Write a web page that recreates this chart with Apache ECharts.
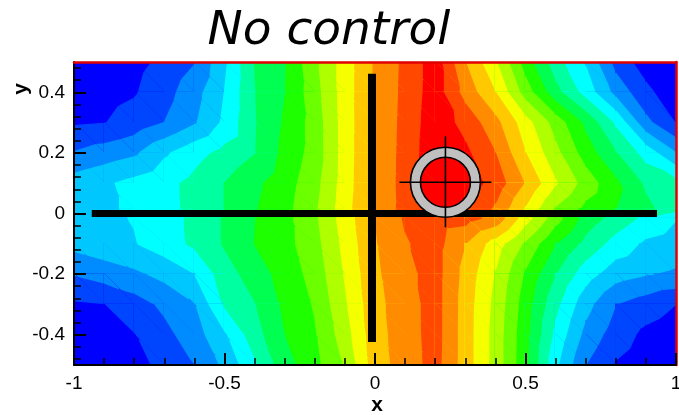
<!DOCTYPE html>
<html><head><meta charset="utf-8">
<script src="https://cdn.jsdelivr.net/npm/echarts@6/dist/echarts.min.js"></script>
<style>html,body{margin:0;padding:0;background:#fff}#c{width:679px;height:415px}</style>
</head><body><div id="c"></div><script>
// grid nodes
const xNodes = [-1,-0.9,-0.8,-0.7,-0.6,-0.5,-0.4,-0.3,-0.2,-0.1,0,0.1,0.2,0.3,0.4,0.5,0.6,0.7,0.8,0.9,1];
const yNodes = [0.5,0.4,0.3,0.2,0.1,0.015,-0.015,-0.1,-0.2,-0.3,-0.4,-0.5];
// field level values (contour level units) read row by row, top to bottom
const row_p050 = [0,0.35,0.7,1.2,1.93,3.8,6.0,6.9,8.75,10.45,12.1,13.2,14.5,12.0,10.1,7.5,5.4,3.9,1.6,0.5,0];
const row_p040 = [0.4,0.65,0.9,1.6,2.58,4.0,5.95,6.95,8.57,10.45,12.1,13.24,14.5,12.6,11.0,8.5,6.33,4.58,2.65,1.25,0.3];
const row_p030 = [0.85,0.96,1.39,2.0,2.87,4.19,5.9,7.11,8.4,10.42,12.13,13.28,14.6,13.65,12.3,10.4,8.55,6.75,4.8,2.27,0.95];
const row_p020 = [2.05,2.43,2.81,3.82,4.62,5.29,5.94,7.27,8.38,10.42,12.17,13.31,14.7,14.2,13.0,11.0,9.27,7.5,6.05,4.55,3.0];
const row_p010 = [3.45,3.84,4.27,4.71,5.26,6.0,6.76,7.54,8.62,10.45,12.2,13.33,14.8,14.6,13.57,11.9,10.1,8.56,7.2,5.8,5.3];
const row_p0015 = [3.6,3.84,4.15,4.67,5.26,6.0,6.91,7.66,8.8,10.55,12.25,13.3,14.5,14.0,12.83,10.87,8.86,7.71,7.0,6.27,5.3];
const row_m0015 = [3.6,3.81,4.05,4.59,5.21,6.09,6.97,7.67,8.8,10.45,12.0,13.1,13.6,13.4,12.65,10.43,8.4,6.56,5.58,4.75,4.05];
const row_m010 = [3.3,3.62,3.93,4.51,5.18,6.09,7.0,7.65,8.61,10.27,11.9,12.9,13.4,12.0,10.5,8.8,7.0,5.67,4.6,3.8,3.5];
const row_m020 = [2.05,2.42,2.78,3.28,3.97,5.54,6.46,7.4,8.36,10.06,11.79,12.68,13.4,11.62,9.9,7.83,6.0,4.43,3.4,3.05,2.85];
const row_m030 = [0.85,0.97,1.53,2.21,2.93,5.11,5.93,7.18,8.09,9.82,11.68,12.52,13.4,11.5,9.68,7.46,5.25,3.33,2.0,1.5,1.0];
const row_m040 = [0.4,0.69,0.95,1.68,2.53,3.82,5.55,6.97,7.87,9.51,11.58,12.5,13.4,11.48,9.57,7.29,4.71,2.67,1.5,0.75,0.4];
const row_m050 = [0,0.33,0.7,1.23,2.0,3.2,4.78,6.55,7.68,9.09,11.46,12.47,13.35,11.48,9.57,7.23,4.2,2.0,0.9,0.4,0.1];
const fieldRows = [row_p050,row_p040,row_p030,row_p020,row_p010,row_p0015,row_m0015,row_m010,row_m020,row_m030,row_m040,row_m050];
const bandColors = ['#0000ff','#0046ff','#008cff','#00c8ff','#00ffff','#00ffa0','#00ff50','#1eff00','#6cff00','#b0ff00','#f5ff00','#ffc800','#ff8c00','#ff4800','#ff0000'];
// overlay marks
const hBar = [[-0.941,0],[0.937,0]];
const vBar = [[-0.01,0.461],[-0.01,-0.424]];
const rotor = [[0.234,0.103]];
// ticks
const xTickLabels = [-1,-0.5,0,0.5,1];
const yMajorTicks = [-0.4,-0.2,0,0.2,0.4];
const yMinorTicks = [-0.48,-0.44,-0.36,-0.32,-0.28,-0.24,-0.16,-0.12,-0.08,-0.04,0.04,0.08,0.12,0.16,0.24,0.28,0.32,0.36,0.44,0.48];

const cells = [];
for (let j = 0; j < yNodes.length - 1; j++) {
  for (let i = 0; i < xNodes.length - 1; i++) {
    cells.push([xNodes[i], xNodes[i+1], yNodes[j], yNodes[j+1],
      fieldRows[j][i], fieldRows[j][i+1], fieldRows[j+1][i], fieldRows[j+1][i+1]]);
  }
}
function clipGE(poly, t) {
  const out = [];
  for (let i = 0; i < poly.length; i++) {
    const a = poly[i], b = poly[(i + 1) % poly.length];
    const ina = a[2] >= t, inb = b[2] >= t;
    if (ina) out.push(a);
    if (ina !== inb) {
      const f = (t - a[2]) / (b[2] - a[2]);
      out.push([a[0] + f * (b[0] - a[0]), a[1] + f * (b[1] - a[1]), t]);
    }
  }
  return out;
}
const NB = bandColors.length;
function band(v) { return Math.max(0, Math.min(NB - 1, Math.floor(v))); }
function renderCell(params, api) {
  const xa = api.value(0), xb = api.value(1), ya = api.value(2), yb = api.value(3);
  const vals = [api.value(4), api.value(5), api.value(6), api.value(7)];
  const pA = api.coord([xa, ya]), pB = api.coord([xb, ya]), pC = api.coord([xa, yb]), pD = api.coord([xb, yb]);
  const A = [pA[0], pA[1], vals[0]], B = [pB[0], pB[1], vals[1]], C = [pC[0], pC[1], vals[2]], D = [pD[0], pD[1], vals[3]];
  const tris = [[A, B, D], [A, D, C]];
  const children = [];
  tris.forEach(function (tri) {
    const vs = tri.map(p => p[2]);
    const k0 = band(Math.min.apply(null, vs)), k1 = band(Math.max.apply(null, vs));
    for (let k = k0; k <= k1; k++) {
      const poly = k === k0 ? tri : clipGE(tri, k);
      if (poly.length < 3) continue;
      children.push({type: 'polygon', shape: {points: poly.map(p => [p[0], p[1]])},
        style: {fill: bandColors[k], stroke: bandColors[k], lineWidth: 1.4, lineJoin: 'round'}, silent: true});
    }
  });
  return {type: 'group', children: children};
}
function renderRotor(params, api) {
  const c = api.coord([api.value(0), api.value(1)]);
  return {type: 'group', children: [
    {type: 'ring', shape: {cx: c[0], cy: c[1], r: 35, r0: 25}, style: {fill: '#c0c0c0', stroke: '#000', lineWidth: 1.6}},
    {type: 'line', shape: {x1: c[0] - 46, y1: c[1], x2: c[0] + 46, y2: c[1]}, style: {stroke: '#000', lineWidth: 1.6}},
    {type: 'line', shape: {x1: c[0], y1: c[1] - 46, x2: c[0], y2: c[1] + 45}, style: {stroke: '#000', lineWidth: 1.6}}
  ]};
}
const FONT = 'Liberation Sans';
const chart = echarts.init(document.getElementById('c'));
chart.setOption({
  animation: false,
  backgroundColor: '#fff',
  textStyle: {fontFamily: FONT},
  grid: {left: 74, right: 3, top: 62, bottom: 50, outerBoundsMode: 'none'},
  xAxis: [
    {type: 'value', min: -1, max: 1, interval: 0.5, position: 'bottom', zlevel: 1, z: 10,
     axisLine: {show: true, onZero: false, lineStyle: {color: '#000', width: 2}},
     axisTick: {show: true, inside: true, length: 12, lineStyle: {color: '#000', width: 2}},
     minorTick: {show: true, splitNumber: 5, length: 7, lineStyle: {color: '#000', width: 1.5}},
     axisLabel: {color: '#000', fontSize: 19, fontFamily: FONT, margin: 9,
       formatter: function (v) { return xTickLabels.indexOf(v) >= 0 ? String(v) : ''; }},
     splitLine: {show: false}},
    {type: 'value', min: -1, max: 1, position: 'top', zlevel: 1, z: 10,
     axisLine: {show: true, onZero: false, lineStyle: {color: '#e00000', width: 2.5}},
     axisTick: {show: false}, axisLabel: {show: false}, splitLine: {show: false}}
  ],
  yAxis: [
    {type: 'value', min: -0.5, max: 0.5, position: 'left', zlevel: 1, z: 10,
     axisLine: {show: true, onZero: false, lineStyle: {color: '#000', width: 2}},
     axisTick: {show: true, inside: true, length: 12, customValues: yMajorTicks, lineStyle: {color: '#000', width: 2}},
     axisLabel: {color: '#000', fontSize: 19, fontFamily: FONT, margin: 9, customValues: yMajorTicks},
     splitLine: {show: false}},
    {type: 'value', min: -0.5, max: 0.5, position: 'left', zlevel: 1, z: 10,
     axisLine: {show: false, onZero: false},
     axisTick: {show: true, inside: true, length: 7, customValues: yMinorTicks, lineStyle: {color: '#000', width: 1.5}},
     axisLabel: {show: false}, splitLine: {show: false}},
    {type: 'value', min: -0.5, max: 0.5, position: 'right', zlevel: 1, z: 10,
     axisLine: {show: true, onZero: false, lineStyle: {color: '#e00000', width: 2.5}},
     axisTick: {show: false}, axisLabel: {show: false}, splitLine: {show: false}}
  ],
  series: [
    {type: 'custom', name: 'field', renderItem: renderCell, data: cells, clip: true, silent: true, z: 1,
     encode: {x: [0, 1], y: [2, 3]}},
    {type: 'line', data: hBar, symbol: 'none', silent: true, z: 3,
     lineStyle: {color: '#000', width: 7, cap: 'butt'}},
    {type: 'line', data: vBar, symbol: 'none', silent: true, z: 3,
     lineStyle: {color: '#000', width: 8, cap: 'butt'}},
    {type: 'custom', name: 'rotor', renderItem: renderRotor, data: rotor, silent: true, z: 5,
     encode: {x: 0, y: 1}}
  ],
  graphic: [
    {type: 'text', x: 329, y: 32, style: {text: 'No control', fontSize: 47, fontStyle: 'italic',
      fontFamily: 'DejaVu Sans', fill: '#000', align: 'center', verticalAlign: 'middle'}},
    {type: 'text', x: 377, y: 405, style: {text: 'x', fontSize: 21, fontWeight: 'bold', fontFamily: FONT,
      fill: '#000', align: 'center', verticalAlign: 'middle'}},
    {type: 'text', x: 21, y: 89, rotation: Math.PI / 2, style: {text: 'y', fontSize: 21, fontWeight: 'bold',
      fontFamily: FONT, fill: '#000', align: 'center', verticalAlign: 'middle'}}
  ]
});
</script></body></html>
